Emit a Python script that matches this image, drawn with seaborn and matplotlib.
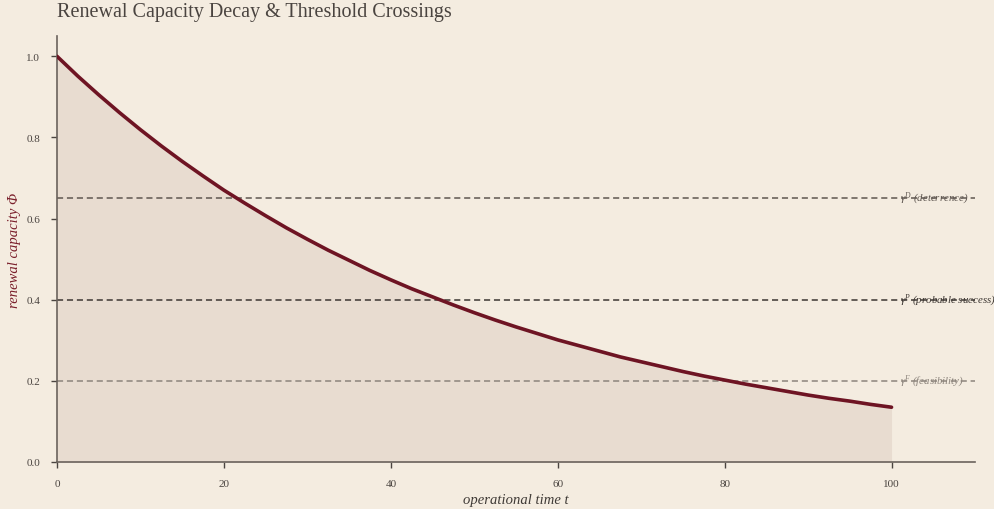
import matplotlib
matplotlib.use("Agg")
import matplotlib.pyplot as plt
import seaborn as sns
import pandas as pd

# data
t_values = [0, 2.5, 5, 7.5, 10, 12.5, 15, 17.5, 20, 22.5, 25, 27.5, 30, 32.5, 35, 37.5, 40,
            42.5, 45, 47.5, 50, 52.5, 55, 57.5, 60, 62.5, 65, 67.5, 70, 72.5, 75, 77.5, 80,
            82.5, 85, 87.5, 90, 92.5, 95, 97.5, 100]
phi_values = [1.0, 0.951, 0.905, 0.861, 0.819, 0.779, 0.741, 0.705, 0.670, 0.638, 0.607,
              0.577, 0.549, 0.522, 0.497, 0.472, 0.449, 0.427, 0.407, 0.387, 0.368,
              0.350, 0.333, 0.317, 0.301, 0.287, 0.273, 0.259, 0.247, 0.235, 0.223,
              0.212, 0.202, 0.192, 0.183, 0.174, 0.165, 0.157, 0.150, 0.142, 0.135]
threshold_values = [0.65, 0.40, 0.20]
threshold_labels = [r"$\gamma^{D}$ (deterrence)", r"$\gamma^{P}$ (probable success)", r"$\gamma^{F}$ (feasibility)"]
threshold_colors = ["#5e5650", "#3c3632", "#8c847c"]
x_ticks = [0, 20, 40, 60, 80, 100]
y_ticks = [0.0, 0.2, 0.4, 0.6, 0.8, 1.0]

bg = "#f4ece0"
sns.set_theme(style="ticks")
plt.rcParams["font.family"] = ["Liberation Serif", "DejaVu Serif"]
plt.rcParams["mathtext.fontset"] = "custom"
plt.rcParams["mathtext.it"] = "Liberation Serif:italic"
plt.rcParams["mathtext.rm"] = "Liberation Serif"

df = pd.DataFrame({"t": t_values, "phi": phi_values})

fig = plt.figure(figsize=(9.95, 5.10), dpi=100, facecolor=bg)
ax = fig.add_axes([57 / 995, 1 - 463 / 510, (975 - 57) / 995, (463 - 37) / 510])
ax.set_facecolor(bg)

ax.fill_between(df["t"], df["phi"], 0, color="#e8dcd0", zorder=1, linewidth=0)
sns.lineplot(data=df, x="t", y="phi", ax=ax, color="#6e1423", linewidth=2.6, zorder=3)

for val, lab, col in zip(threshold_values, threshold_labels, threshold_colors):
    ax.axhline(val, color=col, linestyle=(0, (4, 2.5)), linewidth=1.1, zorder=2)
    ax.text(101, val, lab, color=col, fontsize=7.8, style="italic", va="center", ha="left", zorder=4)

ax.set_xlim(0, 110)
ax.set_ylim(0, 1.05)
ax.set_xticks(x_ticks)
ax.set_xticklabels([str(v) for v in x_ticks])
ax.set_yticks(y_ticks)
ax.set_yticklabels([f"{v:.1f}" for v in y_ticks])
ax.tick_params(axis="both", labelsize=8, colors="#4a4440", length=4, width=1, pad=8)
for s in ["top", "right"]:
    ax.spines[s].set_visible(False)
for s in ["left", "bottom"]:
    ax.spines[s].set_color("#6a625c")
    ax.spines[s].set_linewidth(1.2)

ax.set_xlabel("operational time t", fontsize=10.5, style="italic", color="#3f3a36", labelpad=4)
ax.set_ylabel("renewal capacity Φ", fontsize=10.5, style="italic", color="#7a1f2b", labelpad=4)

fig.text(57 / 995, 1 - 12 / 510, "Renewal Capacity Decay & Threshold Crossings",
         fontsize=14.5, color="#4a4440", ha="left", va="center")

fig.savefig("out.png", dpi=100, facecolor=bg)
